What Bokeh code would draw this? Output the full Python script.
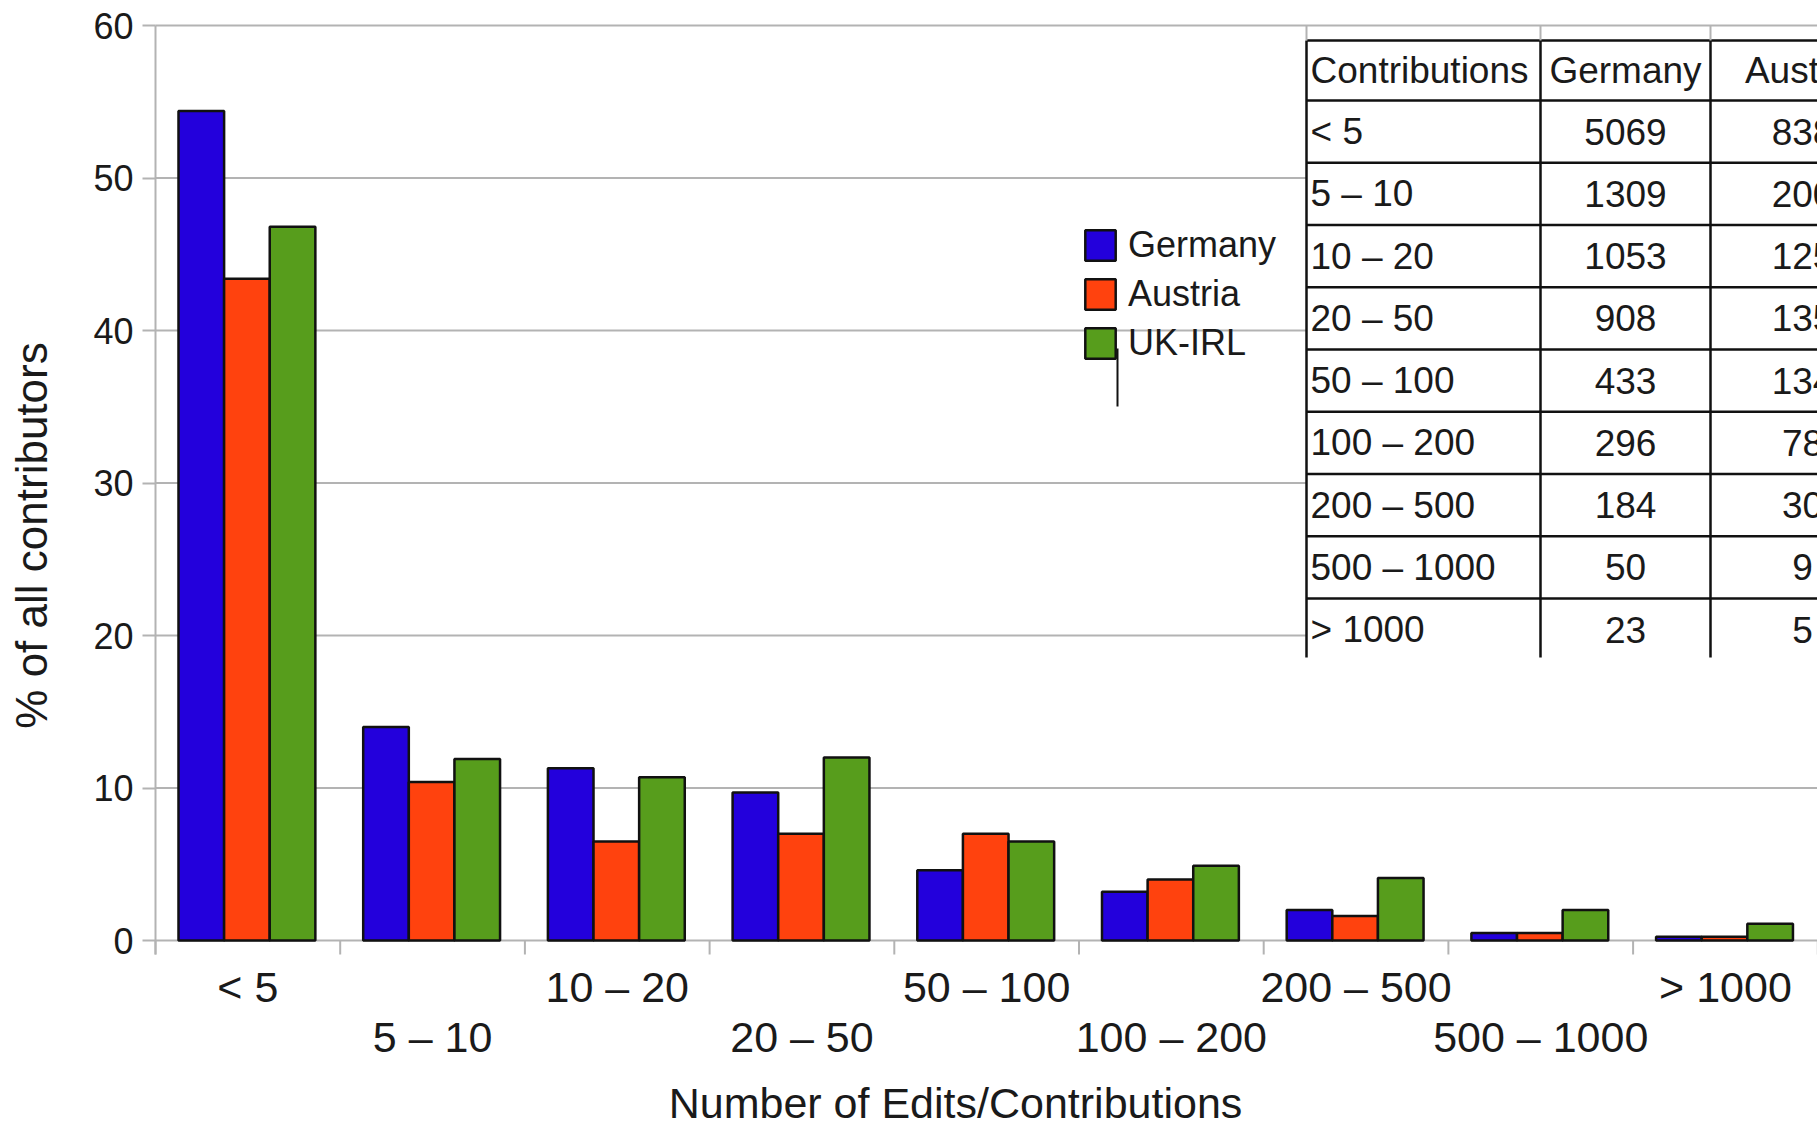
import numpy as np
from bokeh.plotting import figure
from bokeh.models import ColumnDataSource, Range1d, FixedTicker, Legend, LegendItem
from bokeh.core.properties import value
from bokeh.embed import file_html
from bokeh.resources import INLINE

# ---------------- data ----------------
categories = ["< 5", "5 – 10", "10 – 20", "20 – 50", "50 – 100",
              "100 – 200", "200 – 500", "500 – 1000", "> 1000"]
germany = [54.4, 14.0, 11.3, 9.7, 4.6, 3.2, 2.0, 0.5, 0.25]
austria = [43.4, 10.4, 6.5, 7.0, 7.0, 4.0, 1.6, 0.5, 0.25]
uk_irl = [46.8, 11.9, 10.7, 12.0, 6.5, 4.9, 4.1, 2.0, 1.1]
series_names = ["Germany", "Austria", "UK-IRL"]
series_colors = ["#2300dc", "#ff420e", "#579d1c"]
y_ticks = [0, 10, 20, 30, 40, 50, 60]
x_title = "Number of Edits/Contributions"
y_title = "% of all contributors"

table_header = ["Contributions", "Germany", "Austria"]
table_rows = categories
table_germany = ["5069", "1309", "1053", "908", "433", "296", "184", "50", "23"]
table_austria = ["838", "200", "125", "135", "134", "78", "30", "9", "5"]

# ---------------- layout (page pixels) ----------------
W, H = 1817, 1127
AXIS_X, AXIS_Y = 155, 940     # y-axis at x=155px, 0-line at y=940px
PX_PER_CAT = 184.7
PX_PER_UNIT = 15.25


def dx(px):
    return (px - AXIS_X) / PX_PER_CAT


def dy(py):
    return (AXIS_Y - py) / PX_PER_UNIT


TXT = "#1a1a1a"
GRID = "#b3b3b3"
FONT = "Liberation Sans"

p = figure(width=W, height=H, x_range=Range1d(dx(0), dx(W)), y_range=Range1d(dy(H), dy(0)),
           output_backend="svg", toolbar_location=None, x_axis_location=None,
           min_border_left=0, min_border_right=0, min_border_top=0, min_border_bottom=0)
p.outline_line_color = None
p.background_fill_color = "white"
p.xgrid.visible = False
p.ygrid.visible = False

# y axis (inside the full-canvas frame, at x = 0)
p.yaxis.fixed_location = 0
p.yaxis.bounds = (dy(954), y_ticks[-1])
p.yaxis.ticker = FixedTicker(ticks=y_ticks)
p.yaxis.axis_line_color = GRID
p.yaxis.axis_line_width = 2
p.yaxis.major_tick_line_color = GRID
p.yaxis.major_tick_line_width = 2
p.yaxis.major_tick_out = 13
p.yaxis.major_tick_in = 0
p.yaxis.minor_tick_line_color = None
p.yaxis.major_label_standoff = 9
p.yaxis.major_label_text_font = FONT
p.yaxis.major_label_text_font_size = "36px"
p.yaxis.major_label_text_color = TXT

# horizontal grid lines (0-line doubles as the category axis)
p.segment(x0=[0] * len(y_ticks), x1=[dx(W) + 1] * len(y_ticks), y0=y_ticks, y1=y_ticks,
          line_color=GRID, line_width=2, level="underlay")
# category boundary ticks
bounds = list(range(len(categories) + 1))
p.segment(x0=bounds, x1=bounds, y0=[0] * len(bounds), y1=[dy(954)] * len(bounds),
          line_color=GRID, line_width=2, level="underlay")

# bars
bar_w = 0.247
renderers = []
for k, (name, vals, col) in enumerate(zip(series_names, [germany, austria, uk_irl], series_colors)):
    xs = [i + 0.248 + k * bar_w for i in range(len(categories))]
    src = ColumnDataSource(dict(x=xs, top=vals))
    r = p.vbar(x="x", top="top", width=bar_w, source=src, fill_color=col,
               line_color="#111111", line_width=2.5)
    renderers.append(r)

# x tick labels (staggered in two rows)
lab_x = [i + 0.5 for i in range(len(categories))]
lab_y = [dy(986) if i % 2 == 0 else dy(1036) for i in range(len(categories))]
p.text(x=lab_x, y=lab_y, text=categories, text_align="center", text_baseline="middle",
       text_font=value(FONT), text_font_size="43px", text_color=TXT)

# axis titles
p.text(x=[dx(955)], y=[dy(1102)], text=[x_title], text_align="center", text_baseline="middle",
       text_font=value(FONT), text_font_size="43px", text_color=TXT)
p.text(x=[dx(31)], y=[dy(535)], text=[y_title], angle=np.pi / 2, text_align="center",
       text_baseline="middle", text_font=value(FONT), text_font_size="44px", text_color=TXT)

# table background and grid
t_left, t_top, t_head = 1306, 40, 100
row_h = 62.25
t_bottom = 657
col_x = [1306, 1540, 1710]
x_far = dx(W) + 1
p.quad(left=[dx(t_left)], right=[x_far], bottom=[dy(t_bottom)], top=[dy(t_top)],
       fill_color="white", line_color=None)
h_lines = [t_top, t_head] + [t_head + row_h * k for k in range(1, len(table_rows))]
p.segment(x0=[dx(t_left)] * len(h_lines), x1=[x_far] * len(h_lines),
          y0=[dy(y) for y in h_lines], y1=[dy(y) for y in h_lines],
          line_color="#111111", line_width=2.5)
p.segment(x0=[dx(x) for x in col_x], x1=[dx(x) for x in col_x],
          y0=[dy(t_top)] * 3, y1=[dy(t_bottom)] * 3, line_color="#111111", line_width=2.5)
p.segment(x0=[dx(x) for x in col_x], x1=[dx(x) for x in col_x],
          y0=[dy(25)] * 3, y1=[dy(t_top)] * 3, line_color=GRID, line_width=2)

row_centers = [(t_top + t_head) / 2] + [t_head + row_h * (k + 0.5) for k in range(len(table_rows))]
c1 = dx(1310)
c2 = dx((1540 + 1710) / 2)
c3 = dx(1802)
src_left = ColumnDataSource(dict(x=[c1] * (len(table_rows) + 1),
                                 y=[dy(y) for y in row_centers],
                                 text=[table_header[0]] + table_rows))
src_center = ColumnDataSource(dict(
    x=[c2] * (len(table_rows) + 1) + [c3] * (len(table_rows) + 1),
    y=[dy(y) for y in row_centers] * 2,
    text=[table_header[1]] + table_germany + [table_header[2]] + table_austria))
p.text(x="x", y="y", text="text", source=src_left, text_align="left", text_baseline="middle",
       text_font=value(FONT), text_font_size="37px", text_color=TXT)
p.text(x="x", y="y", text="text", source=src_center, text_align="center", text_baseline="middle",
       text_font=value(FONT), text_font_size="37px", text_color=TXT)

# stray line near legend
p.segment(x0=[dx(1117)], x1=[dx(1117)], y0=[dy(348)], y1=[dy(406)], line_color="#111111", line_width=2)

# legend
legend = Legend(items=[LegendItem(label=n, renderers=[r]) for n, r in zip(series_names, renderers)],
                location=(1081, H - 364),
                glyph_width=38, glyph_height=38, label_standoff=9, spacing=7,
                padding=0, margin=0, border_line_color=None, background_fill_alpha=0,
                label_text_font=FONT, label_text_font_size="36px", label_text_color=TXT)
p.add_layout(legend)

open("out.html", "w").write(file_html(p, INLINE))
